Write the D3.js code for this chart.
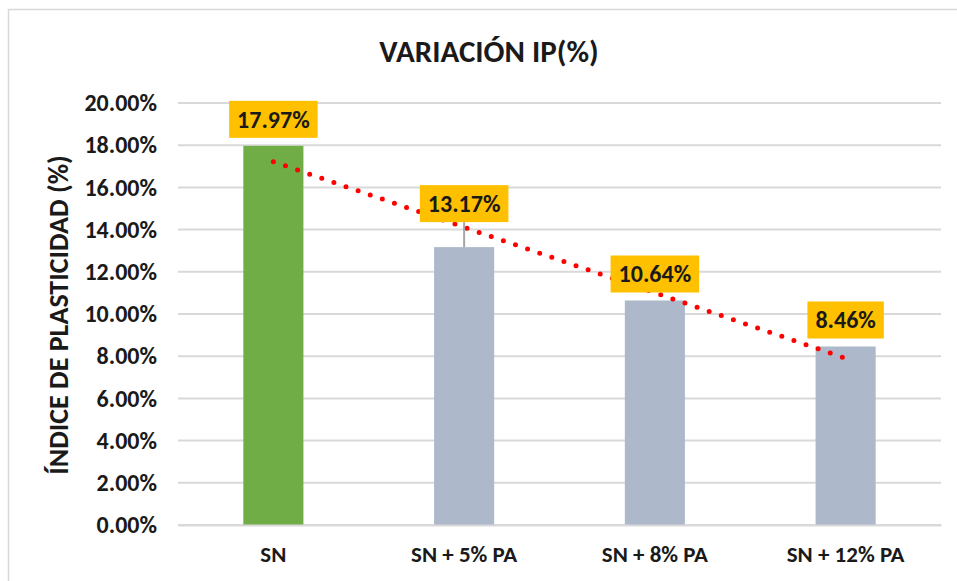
<!DOCTYPE html>
<html>
<head>
<meta charset="utf-8">
<script src="https://cdn.jsdelivr.net/npm/d3@7"></script>
<style>
  body { margin: 0; background: #fff; }
  text { font-family: Carlito, "Liberation Sans Narrow", "DejaVu Sans Condensed", "Open Sans", sans-serif; }
</style>
</head>
<body>
<div id="chart"></div>
<script>
// data
var categories = ["SN", "SN + 5% PA", "SN + 8% PA", "SN + 12% PA"];
var values = [17.97, 13.17, 10.64, 8.46];
var barColors = ["#70ad47", "#adb9ca", "#adb9ca", "#adb9ca"];
var yTicks = [0, 2, 4, 6, 8, 10, 12, 14, 16, 18, 20];

var svgWidth = 957, svgHeight = 581;
var margin = { top: 103, right: 16, bottom: 56, left: 178 };
var chartWidth = 941 - margin.left;
var chartHeight = 525 - margin.top;
var fontStack = "Carlito, 'Liberation Sans Narrow', 'DejaVu Sans Condensed', sans-serif";

var svg = d3.select("#chart").append("svg")
  .attr("width", svgWidth)
  .attr("height", svgHeight);

// chart border
svg.append("rect")
  .attr("x", 8.5).attr("y", 9.5)
  .attr("width", 960).attr("height", 600)
  .attr("fill", "none")
  .attr("stroke", "#d9d9d9")
  .attr("stroke-width", 1.5);

var chartGroup = svg.append("g")
  .attr("transform", `translate(${margin.left}, ${margin.top})`);

var xScale = d3.scaleBand()
  .domain(categories)
  .range([0, chartWidth])
  .paddingInner(0.685)
  .paddingOuter(0.3425);

var yScale = d3.scaleLinear()
  .domain([0, 20])
  .range([chartHeight, 0]);

// gridlines
chartGroup.selectAll(".grid")
  .data(yTicks)
  .enter()
  .append("line")
  .attr("x1", 0).attr("x2", chartWidth)
  .attr("y1", d => yScale(d)).attr("y2", d => yScale(d))
  .attr("stroke", "#d9d9d9")
  .attr("stroke-width", 2);

// y axis labels
var leftAxis = d3.axisLeft(yScale)
  .tickValues(yTicks)
  .tickSize(0)
  .tickPadding(21)
  .tickFormat(d => d.toFixed(2) + "%");

var yAxis = chartGroup.append("g").call(leftAxis);
yAxis.select(".domain").remove();
yAxis.selectAll("text")
  .attr("font-size", 24)
  .attr("font-weight", "bold")
  .attr("fill", "#1a1a1a")
  .style("font-family", fontStack);

// bars
chartGroup.selectAll(".bar")
  .data(values)
  .enter()
  .append("rect")
  .attr("x", (d, i) => xScale(categories[i]))
  .attr("y", d => yScale(d))
  .attr("width", xScale.bandwidth())
  .attr("height", d => chartHeight - yScale(d))
  .attr("fill", (d, i) => barColors[i]);

// x axis
var bottomAxis = d3.axisBottom(xScale).tickSize(0).tickPadding(21);
var xAxis = chartGroup.append("g")
  .attr("transform", `translate(0, ${chartHeight})`)
  .call(bottomAxis);
xAxis.select(".domain").attr("stroke", "#d9d9d9").attr("stroke-width", 2);
xAxis.selectAll("text")
  .attr("font-size", 23)
  .attr("font-weight", "bold")
  .attr("fill", "#1a1a1a")
  .style("font-family", fontStack);

// linear trendline (least squares on the bar values)
var n = values.length;
var xs = values.map((d, i) => i + 1);
var mx = d3.mean(xs), my = d3.mean(values);
var slope = d3.sum(xs.map((x, i) => (x - mx) * (values[i] - my))) / d3.sum(xs.map(x => (x - mx) * (x - mx)));
var intercept = my - slope * mx;
var cx = i => xScale(categories[i]) + xScale.bandwidth() / 2;

chartGroup.append("line")
  .attr("x1", cx(0)).attr("y1", yScale(intercept + slope * 1))
  .attr("x2", cx(n - 1)).attr("y2", yScale(intercept + slope * n))
  .attr("stroke", "#ff0000")
  .attr("stroke-width", 5)
  .attr("stroke-linecap", "round")
  .attr("stroke-dasharray", "0 12.8");

// data labels, the second one was dragged up in the original
var labelLift = [0, 17, 0, 0];
var labels = chartGroup.selectAll(".lbl")
  .data(values)
  .enter()
  .append("g")
  .attr("transform", (d, i) => `translate(${cx(i)}, ${yScale(d) - 8 - labelLift[i]})`);

labels.filter((d, i) => labelLift[i] > 0)
  .append("line")
  .attr("x1", 0).attr("x2", 0)
  .attr("y1", 0).attr("y2", (d, i) => 8 + labelLift[1])
  .attr("stroke", "#a6a6a6")
  .attr("stroke-width", 2);

labels.each(function(d) {
  var g = d3.select(this);
  var rect = g.append("rect").attr("fill", "#ffc000");
  var t = g.append("text")
    .attr("text-anchor", "middle")
    .attr("y", -10)
    .attr("font-size", 24)
    .attr("font-weight", "bold")
    .attr("fill", "#1a1a1a")
    .text(d.toFixed(2) + "%");
  var w = t.node().getBBox().width + 16;
  rect.attr("x", -w / 2).attr("y", -37).attr("width", w).attr("height", 37);
});

// title
svg.append("text")
  .attr("x", 489).attr("y", 62)
  .attr("text-anchor", "middle")
  .attr("font-size", 31)
  .attr("font-weight", "bold")
  .attr("fill", "#1a1a1a")
  .text("VARIACIÓN IP(%)");

// y axis title
svg.append("text")
  .attr("transform", `translate(68, ${margin.top + chartHeight / 2 + 1}) rotate(-90)`)
  .attr("text-anchor", "middle")
  .attr("font-size", 28)
  .attr("font-weight", "bold")
  .attr("fill", "#1a1a1a")
  .text("ÍNDICE DE PLASTICIDAD (%)");
</script>
</body>
</html>
